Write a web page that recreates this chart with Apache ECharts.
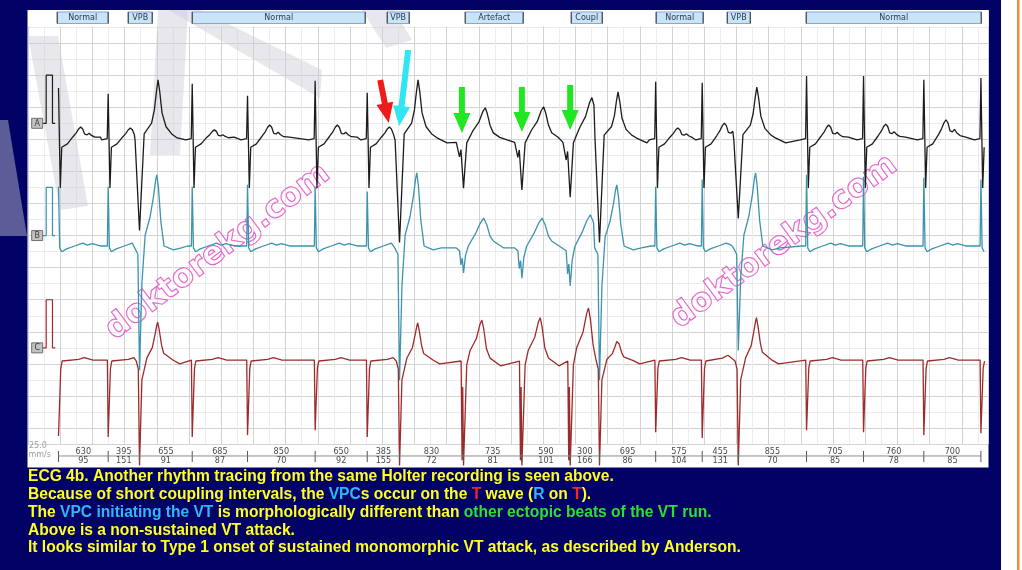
<!DOCTYPE html>
<html>
<head>
<meta charset="utf-8">
<title>ECG 4b</title>
<script src="https://cdn.jsdelivr.net/npm/echarts/dist/echarts.min.js"></script>
<style>
html, body { margin: 0; padding: 0; background: #010166; }
#main { width: 1022px; height: 570px; }
</style>
</head>
<body>
<div id="main"></div>
<script>
// beat positions (ms from the left edge of the strip) and beat classes
var beatTimes = [379, 996, 1385, 2040, 2727, 3567, 4214, 4615, 5410, 6135, 6735, 7099, 7797, 8375, 8823, 9671, 10379, 11128, 11837];
var beatTypes = ['N', 'N', 'V', 'N', 'N', 'N', 'N', 'V', 'G', 'G', 'G', 'V', 'N', 'N', 'V', 'N', 'N', 'N', 'N'];

// RR intervals (ms) and rate (bpm) printed under the strip
var rrMs = [630, 395, 655, 685, 850, 650, 385, 830, 735, 590, 300, 695, 575, 455, 855, 705, 760, 700];
var rrBpm = [95, 151, 91, 87, 70, 92, 155, 72, 81, 101, 166, 86, 104, 131, 70, 85, 78, 85];

// main QRS deflection and T wave height per beat (mV)
var mainA = [1.08, 0.96, -1.88, 1.17, 0.92, 1.23, 0.98, -2.13, -1.00, -1.04, -1.19, -2.13, 1.21, 1.19, -1.63, 1.33, 1.33, 1.25, 1.29];
var waveA = [0.27, 0.25, 1.25, 0.21, 0.31, 0.31, 0.27, 1.25, 0.67, 0.69, 0.88, 1.00, 0.25, 0.35, 1.10, 0.31, 0.33, 0.42, 0.31];
var mainB = [1.23, 1.23, -2.58, 1.23, 1.27, 1.23, 1.13, -2.79, -0.56, -0.67, -0.83, -2.79, 1.23, 1.38, -2.17, 1.48, 1.44, 1.42, 1.38];
var waveB = [0.06, 0.06, 1.48, 0.06, 0.06, 0.06, 0.06, 1.52, 0.58, 0.58, 0.65, 1.27, 0.06, 0.06, 1.52, 0.06, 0.06, 0.06, 0.06];
var mainC = [-1.56, -1.58, -2.17, -1.58, -1.54, -1.44, -1.58, -2.17, -2.17, -2.17, -2.17, -2.17, -1.48, -1.60, -2.17, -1.44, -1.48, -1.54, -1.50];
var waveC = [0.07, 0.07, 0.81, 0.07, 0.07, 0.07, 0.07, 0.79, 0.85, 0.90, 1.10, 0.44, 0.07, 0.12, 0.90, 0.07, 0.07, 0.07, 0.07];

// beat shapes: [ms from beat, value, part] part 0 = mV, 1 = x main deflection, 2 = x T height
var shapeAN = [[-80, 0, 0], [-12, 0.03, 0], [0, 1, 1], [22, -1.0, 0], [40, -0.15, 0], [110, -0.08, 0], [180, 0.25, 2], [220, 0.55, 2], [250, 0.85, 2], [275, 1, 2], [300, 0.85, 2], [325, 0.45, 2], [355, 0.4, 2], [380, 0.52, 2], [410, 0.35, 2], [450, 0.22, 2], [520, 0.06, 0]];
var shapeAV = [[-55, 0, 0], [0, 1, 1], [58, 0.1, 2], [150, 0.28, 2], [185, 0.5, 2], [210, 0.8, 2], [230, 1, 2], [250, 0.82, 2], [280, 0.45, 2], [330, 0.22, 2], [400, 0.1, 2], [460, 0.04, 2], [590, -0.06, 0]];
var shapeAG = [[-90, -0.05, 0], [-50, 0.35, 1], [-32, 0.2, 1], [0, 1, 1], [40, -0.06, 0], [120, 0.3, 2], [190, 0.55, 2], [240, 0.88, 2], [270, 1, 2], [295, 0.82, 2], [330, 0.45, 2], [370, 0.22, 2], [450, 0.08, 2], [540, 0, 0], [640, -0.1, 0]];
var shapeBN = [[-60, 0, 0], [-10, 0, 0], [0, 1, 1], [15, -0.04, 0], [40, -0.12, 0], [100, -0.06, 0], [200, 0, 0], [300, 1, 2], [360, 0.3, 2], [420, 0.8, 2], [520, 0, 0]];
var shapeBV = [[-60, -0.04, 0], [-20, -0.17, 0], [0, 1, 1], [30, 0.3, 1], [70, 0.15, 2], [130, 0.4, 2], [175, 0.7, 2], [200, 0.92, 2], [215, 1, 2], [235, 0.82, 2], [265, 0.35, 2], [305, 0, 0], [420, -0.08, 0], [520, -0.04, 0]];
var shapeBG = [[-90, -0.04, 0], [-50, -0.1, 0], [-32, 0.7, 1], [-16, 0.45, 1], [0, 1, 1], [25, 0.35, 1], [60, 0, 0], [150, 0.45, 2], [205, 0.8, 2], [250, 1, 2], [290, 0.75, 2], [330, 0.35, 2], [370, 0.18, 2], [500, -0.04, 0]];
var shapeCN = [[-10, 0.02, 0], [0, 1, 1], [28, 0.1, 1], [45, 0, 0], [250, 0.5, 2], [320, 1, 2], [420, 0.3, 2], [520, 0.02, 0]];
var shapeCV = [[-40, 0, 0], [-15, -0.17, 0], [0, 1, 1], [30, 0.18, 1], [92, 0.08, 2], [160, 0.35, 2], [195, 0.7, 2], [215, 0.92, 2], [226, 1, 2], [245, 0.8, 2], [275, 0.4, 2], [300, 0.2, 2], [420, 0.02, 2], [500, -0.06, 0]];
var shapeCG = [[-30, 0, 0], [-18, 0.95, 1], [-10, 0.25, 1], [0, 1, 1], [40, -0.08, 0], [80, 0.25, 2], [160, 0.55, 2], [205, 0.9, 2], [228, 1, 2], [250, 0.8, 2], [285, 0.3, 2], [330, 0.07, 2], [460, -0.1, 0]];

// leads
var leadNames = ['A', 'B', 'C'];
var leadBase = [8.04, 14.65, 21.82];
var calBase = [7, 14, 21];
var leadColors = ['#1c1c1c', '#3b93ae', '#9e2b2b'];

// rhythm annotation row
var annNames = ['Normal', 'VPB', 'Normal', 'VPB', 'Artefact', 'Coupl', 'Normal', 'VPB', 'Normal'];
var annStart = [363, 1245, 2040, 4462, 5431, 6748, 7803, 8686, 9667];
var annEnd = [996, 1543, 4189, 4735, 6151, 7133, 8387, 8972, 11841];

// arrows [from ms, from y, to ms, to y]
var arrowColors = ['#ee1b1b', '#2fe6f2', '#22e622', '#22e622', '#22e622'];
var arrowFrom = [[4375, 4.3], [4723, 2.43], [5390, 4.74], [6135, 4.74], [6735, 4.61]];
var arrowTo = [[4481, 6.98], [4611, 7.17], [5390, 7.61], [6135, 7.54], [6735, 7.42]];

var X_MAX = 11925, Y_MAX = 27, MV = 3, TRACE_END = 11900;

function buildTrace(shapes, base, main, wave) {
    var pts = [];
    for (var i = 0; i < beatTimes.length; i++) {
        var s = shapes[beatTypes[i]];
        var stop = i + 1 < beatTimes.length ? beatTimes[i + 1] + shapes[beatTypes[i + 1]][0][0] : TRACE_END;
        for (var k = 0; k < s.length; k++) {
            if (i == 0 && s[k][0] < 0) continue;
            var t = beatTimes[i] + s[k][0];
            if (t >= stop) break;
            var v = s[k][2] == 1 ? s[k][1] * main[i] : (s[k][2] == 2 ? s[k][1] * wave[i] : s[k][1]);
            pts.push([t, base - v * MV]);
        }
    }
    return pts;
}

var traces = [
    buildTrace({N: shapeAN, V: shapeAV, G: shapeAG}, leadBase[0], mainA, waveA),
    buildTrace({N: shapeBN, V: shapeBV, G: shapeBG}, leadBase[1], mainB, waveB),
    buildTrace({N: shapeCN, V: shapeCV, G: shapeCG}, leadBase[2], mainC, waveC)
];

var smallFont = '8px "DejaVu Sans", sans-serif';
var narrowFont = '9px "Liberation Sans Narrow", "DejaVu Sans Condensed", sans-serif';

var series = [];
for (var j = 0; j < 3; j++) {
    series.push({
        type: 'line', data: traces[j], symbol: 'none', clip: false, silent: true, z: 5,
        lineStyle: {color: leadColors[j], width: 1.3}
    });
    var b = calBase[j];
    series.push({
        type: 'line', symbol: 'none', clip: false, silent: true, z: 5,
        data: [[185, b], [226, b], [226, b - MV], [304, b - MV], [304, b], [338, b]],
        lineStyle: {color: leadColors[j], width: 1.2}
    });
}

// lead label boxes
series.push({
    type: 'custom', z: 6, silent: true,
    data: calBase.map(function (b) { return [114, b]; }),
    renderItem: function (params, api) {
        var p = api.coord([api.value(0), api.value(1)]);
        return {type: 'group', children: [
            {type: 'rect', shape: {x: p[0] - 5.5, y: p[1] - 5, width: 11, height: 10}, style: {fill: '#c2c2c2', stroke: '#707070', lineWidth: 1}},
            {type: 'text', x: p[0], y: p[1] + 0.5, style: {text: leadNames[params.dataIndex], fill: '#3a3a3a', font: smallFont, align: 'center', verticalAlign: 'middle'}}
        ]};
    }
});

// annotation boxes at the top
series.push({
    type: 'custom', z: 6, silent: true,
    data: annStart.map(function (s, i) { return [s, annEnd[i], 0.06, 0.78]; }),
    encode: {x: [0, 1], y: [2, 3]},
    renderItem: function (params, api) {
        var p0 = api.coord([api.value(0), api.value(2)]);
        var p1 = api.coord([api.value(1), api.value(3)]);
        var x = p0[0], y = p0[1], w = p1[0] - p0[0], h = p1[1] - p0[1];
        return {type: 'group', children: [
            {type: 'rect', shape: {x: x, y: y, width: w, height: h}, style: {fill: '#c9e4f7', stroke: '#90a8ba', lineWidth: 1}},
            {type: 'line', shape: {x1: x, y1: y, x2: x, y2: y + h}, style: {stroke: '#333', lineWidth: 1}},
            {type: 'line', shape: {x1: x + w, y1: y, x2: x + w, y2: y + h}, style: {stroke: '#333', lineWidth: 1}},
            {type: 'text', x: x + w / 2, y: y + h / 2 + 0.5, style: {text: annNames[params.dataIndex], fill: '#2b3b4b', font: smallFont, align: 'center', verticalAlign: 'middle'}}
        ]};
    }
});

// RR strip under the tracing
series.push({
    type: 'custom', z: 6, silent: true,
    data: beatTimes.map(function (t) { return [t, 27.74]; }),
    renderItem: function (params, api) {
        var i = params.dataIndex;
        var t = api.value(0);
        var p = api.coord([t, 27.74]);
        var top = api.coord([t, 27.43]);
        var bot = api.coord([t, 28.12]);
        var kids = [{type: 'line', shape: {x1: p[0], y1: top[1], x2: p[0], y2: bot[1]}, style: {stroke: '#555', lineWidth: 1}}];
        if (i < rrMs.length) {
            var q = api.coord([beatTimes[i + 1], 27.74]);
            var mid = (t + beatTimes[i + 1]) / 2;
            var m = api.coord([mid, 27.45]);
            var n = api.coord([mid, 28.02]);
            kids.push({type: 'line', shape: {x1: p[0], y1: p[1], x2: q[0], y2: q[1]}, style: {stroke: '#8c8c8c', lineWidth: 1}});
            kids.push({type: 'text', x: m[0], y: m[1], style: {text: String(rrMs[i]), fill: '#4a4a4a', font: narrowFont, align: 'center', verticalAlign: 'middle'}});
            kids.push({type: 'text', x: n[0], y: n[1], style: {text: String(rrBpm[i]), fill: '#4a4a4a', font: narrowFont, align: 'center', verticalAlign: 'middle'}});
        }
        return {type: 'group', children: kids};
    }
});

// arrows
series.push({
    type: 'custom', z: 10, silent: true,
    data: arrowFrom.map(function (f, i) { return [f[0], f[1], arrowTo[i][0], arrowTo[i][1]]; }),
    encode: {x: [0, 2], y: [1, 3]},
    renderItem: function (params, api) {
        var a = api.coord([api.value(0), api.value(1)]);
        var e = api.coord([api.value(2), api.value(3)]);
        var dx = e[0] - a[0], dy = e[1] - a[1], len = Math.sqrt(dx * dx + dy * dy);
        var ux = dx / len, uy = dy / len, nx = -uy, ny = ux;
        var hl = 20, hw = 8.5, sw = 3;
        var bx = e[0] - ux * hl, by = e[1] - uy * hl;
        return {type: 'polygon', shape: {points: [
            [a[0] + nx * sw, a[1] + ny * sw], [bx + nx * sw, by + ny * sw], [bx + nx * hw, by + ny * hw], e,
            [bx - nx * hw, by - ny * hw], [bx - nx * sw, by - ny * sw], [a[0] - nx * sw, a[1] - ny * sw]
        ]}, style: {fill: arrowColors[params.dataIndex]}};
    }
});

var wmBands = [
    [[0, 120], [8, 120], [27, 236], [0, 236]],
    [[28, 36], [58, 36], [88, 206], [60, 210]],
    [[158, 10], [188, 10], [180, 155], [150, 155]],
    [[168, 10], [200, 10], [322, 70], [320, 98]],
    [[362, 10], [394, 10], [412, 40], [386, 48]]
];

var noteLines = [
    [['y', 'ECG 4b. Another rhythm tracing from the same Holter recording is seen above.']],
    [['y', 'Because of short coupling intervals, the '], ['b', 'VPC'], ['y', 's occur on the '], ['r', 'T'], ['y', ' wave ('], ['b', 'R'], ['y', ' on '], ['r', 'T'], ['y', ').']],
    [['y', 'The '], ['b', 'VPC initiating the VT'], ['y', ' is morphologically different than '], ['g', 'other ectopic beats of the VT run.']],
    [['y', 'Above is a non-sustained VT attack.']],
    [['y', 'It looks similar to Type 1 onset of sustained monomorphic VT attack, as described by Anderson.']]
];
var noteText = noteLines.map(function (l) {
    return l.map(function (s) { return '{' + s[0] + '|' + s[1] + '}'; }).join('');
}).join('\n');
function noteStyle(c) {
    return {fill: c, fontSize: 15.6, fontWeight: 'bold', fontFamily: '"Liberation Sans", Arial, sans-serif', lineHeight: 17.8};
}

var graphic = [
    {type: 'rect', z: -10, shape: {x: 27.5, y: 10, width: 961, height: 457.5}, style: {fill: '#ffffff'}},
    {type: 'rect', z: 1, shape: {x: 28, y: 10, width: 960.5, height: 16.5}, style: {fill: '#ffffff'}},
    {type: 'rect', z: 20, shape: {x: 1001, y: 0, width: 21, height: 570}, style: {fill: '#ffffff'}},
    {type: 'rect', z: 21, shape: {x: 1017, y: 0, width: 2.5, height: 570}, style: {fill: '#f08a3c'}},
    {type: 'text', z: 6, x: 29, y: 446, style: {text: '25.0', fill: '#a0a0a0', font: smallFont, verticalAlign: 'middle'}},
    {type: 'text', z: 6, x: 28.5, y: 455, style: {text: 'mm/s', fill: '#a0a0a0', font: smallFont, verticalAlign: 'middle'}},
    {type: 'text', z: 3, x: 218, y: 252, rotation: 0.645, style: {text: 'doktorekg.com', font: 'bold 32px "DejaVu Sans", sans-serif', fill: 'rgba(255,255,255,0.35)', stroke: '#e24cc4', lineWidth: 1.2, align: 'center', verticalAlign: 'middle'}},
    {type: 'text', z: 3, x: 784, y: 242, rotation: 0.63, style: {text: 'doktorekg.com', font: 'bold 32px "DejaVu Sans", sans-serif', fill: 'rgba(255,255,255,0.35)', stroke: '#e24cc4', lineWidth: 1.2, align: 'center', verticalAlign: 'middle'}},
    {type: 'text', z: 8, x: 28, y: 468, style: {text: noteText, rich: {y: noteStyle('#ffff22'), b: noteStyle('#2fb8f6'), r: noteStyle('#ff2424'), g: noteStyle('#2ee02e')}}}
];
wmBands.forEach(function (pts) {
    graphic.push({type: 'polygon', z: 2, shape: {points: pts}, style: {fill: 'rgba(205,205,212,0.45)'}});
});

var chart = echarts.init(document.getElementById('main'));
chart.setOption({
    backgroundColor: '#010166',
    animation: false,
    grid: {left: 28, top: 11, width: 960, height: 433.1},
    xAxis: {
        type: 'value', min: 0, max: X_MAX, interval: 400,
        axisLine: {show: false}, axisTick: {show: false}, axisLabel: {show: false},
        splitLine: {show: true, lineStyle: {color: '#d3d3d3', width: 1}},
        minorTick: {show: false, splitNumber: 2},
        minorSplitLine: {show: true, lineStyle: {color: '#ececec', width: 1}}
    },
    yAxis: {
        type: 'value', min: 0, max: Y_MAX, interval: 2, inverse: true,
        axisLine: {show: false}, axisTick: {show: false}, axisLabel: {show: false},
        splitLine: {show: true, lineStyle: {color: '#d3d3d3', width: 1}},
        minorTick: {show: false, splitNumber: 2},
        minorSplitLine: {show: true, lineStyle: {color: '#ececec', width: 1}}
    },
    graphic: graphic,
    series: series
});
</script>
</body>
</html>
